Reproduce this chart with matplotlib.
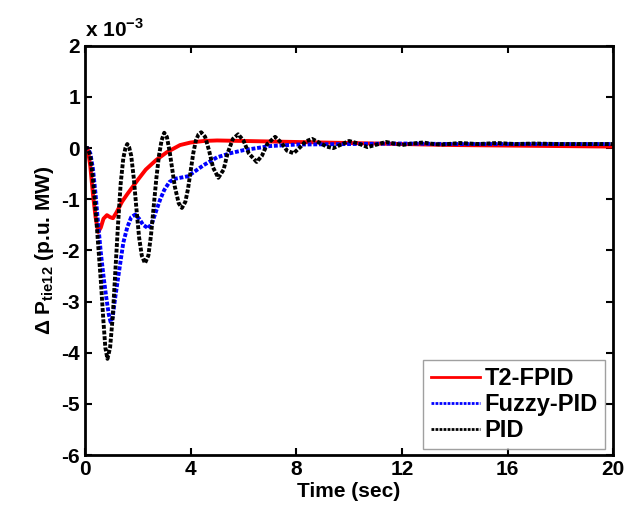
import matplotlib
matplotlib.use("Agg")
import matplotlib.pyplot as plt

plt.rcParams['font.family'] = ['Liberation Sans', 'DejaVu Sans']
plt.rcParams['mathtext.fontset'] = 'custom'
plt.rcParams['mathtext.rm'] = 'Liberation Sans'
plt.rcParams['mathtext.bf'] = 'Liberation Sans:bold'
plt.rcParams['axes.unicode_minus'] = False

# Data (values in units of 1e-3 p.u. MW)
t_t2 = [0, 0.1, 0.2, 0.3, 0.4, 0.5, 0.6, 0.7, 0.83, 0.95, 1.06, 1.2, 1.4, 1.6,
        1.8, 2.0, 2.3, 2.7, 3.1, 3.6, 4.0, 4.5, 5.0, 6.0, 7.0, 8.0, 10, 12, 14,
        16, 18, 20]
y_t2 = [0, 0, -0.35, -0.9, -1.35, -1.64, -1.55, -1.38, -1.31, -1.35, -1.37,
        -1.25, -1.05, -0.9, -0.76, -0.62, -0.42, -0.23, -0.08, 0.06, 0.11,
        0.14, 0.15, 0.14, 0.13, 0.12, 0.1, 0.08, 0.06, 0.05, 0.04, 0.03]

t_fuzzy = [0, 0.1, 0.2, 0.3, 0.4, 0.5, 0.6, 0.7, 0.8, 0.9, 0.97, 1.05, 1.15,
           1.25, 1.35, 1.45, 1.6, 1.75, 1.9, 2.05, 2.2, 2.4, 2.55, 2.7, 2.85,
           3.0, 3.2, 3.4, 3.7, 3.9, 4.2, 4.5, 5.0, 5.5, 6.0, 6.5, 7.0, 8.0, 10,
           12, 14, 16, 18, 20]
y_fuzzy = [0, 0, -0.1, -0.4, -0.9, -1.5, -2.05, -2.5, -2.9, -3.25, -3.4, -3.3,
           -2.9, -2.55, -2.2, -1.85, -1.55, -1.35, -1.3, -1.38, -1.5, -1.57,
           -1.45, -1.22, -1.0, -0.82, -0.66, -0.6, -0.57, -0.55, -0.44, -0.33,
           -0.18, -0.1, -0.04, 0.0, 0.04, 0.07, 0.08, 0.09, 0.08, 0.08, 0.08,
           0.08]

t_pid = [0, 0.1, 0.2, 0.3, 0.4, 0.5, 0.6, 0.7, 0.77, 0.85, 0.95, 1.05, 1.15,
         1.25, 1.35, 1.45, 1.53, 1.6, 1.67, 1.75, 1.85, 1.95, 2.05, 2.15,
         2.27, 2.4, 2.5, 2.6, 2.7, 2.8, 2.9, 3.0, 3.1, 3.2, 3.3, 3.4, 3.55,
         3.67, 3.8, 3.9, 4.0, 4.1, 4.2, 4.3, 4.4, 4.55, 4.7, 4.85, 5.05, 5.25,
         5.4, 5.6, 5.8, 6.0, 6.2, 6.5, 6.7, 6.9, 7.2, 7.45, 7.65, 7.9, 8.15,
         8.35, 8.6, 8.9, 9.15, 9.4, 9.7, 10.0, 10.35, 10.7, 11.05, 11.4, 11.7,
         12.0, 12.4, 12.8, 13.2, 13.5, 14.2, 14.9, 15.6, 16.3, 17, 18, 19, 20]
y_pid = [0, 0, -0.15, -0.6, -1.2, -1.9, -2.6, -3.4, -3.9, -4.12, -3.9, -3.3,
         -2.4, -1.5, -0.7, -0.2, 0.0, 0.08, 0.02, -0.15, -0.6, -1.2, -1.75,
         -2.1, -2.25, -2.1, -1.7, -1.15, -0.6, -0.15, 0.15, 0.3, 0.22, -0.05,
         -0.4, -0.75, -1.08, -1.17, -1.05, -0.8, -0.45, -0.1, 0.15, 0.27,
         0.31, 0.22, -0.05, -0.38, -0.58, -0.42, -0.1, 0.18, 0.27, 0.15, -0.1,
         -0.27, -0.15, 0.08, 0.22, 0.1, -0.05, -0.1, 0.02, 0.13, 0.18, 0.1,
         0.03, 0.0, 0.07, 0.14, 0.09, 0.02, 0.07, 0.12, 0.09, 0.06, 0.09, 0.11,
         0.08, 0.07, 0.1, 0.08, 0.1, 0.08, 0.09, 0.08, 0.08, 0.08]

labels = ['T2-FPID', 'Fuzzy-PID', 'PID']
xticks = [0, 4, 8, 12, 16, 20]
yticks = [-6, -5, -4, -3, -2, -1, 0, 1, 2]

fig = plt.figure(figsize=(6.25, 5.15), dpi=100)
ax = fig.add_axes([0.136, 0.1165, 0.845, 0.7945])

dots = (0, (1.0, 0.45))
ax.plot(t_t2, y_t2, color='red', lw=2.8, label=labels[0])
ax.plot(t_fuzzy, y_fuzzy, color='blue', lw=2.8, ls=dots, label=labels[1])
ax.plot(t_pid, y_pid, color='black', lw=2.8, ls=dots, label=labels[2])

ax.set_xlim(0, 20)
ax.set_ylim(-6, 2)
ax.set_xticks(xticks)
ax.set_yticks(yticks)
ax.tick_params(direction='in', top=True, right=True, length=5, width=1.5,
               labelsize=15)
for lbl in ax.get_xticklabels() + ax.get_yticklabels():
    lbl.set_fontweight('bold')
for s in ax.spines.values():
    s.set_linewidth(2)

ax.set_xlabel('Time (sec)', fontsize=15, fontweight='bold', labelpad=2)
ax.set_ylabel(r'$\mathbf{\Delta}$ P$_{\mathbf{tie12}}$ (p.u. MW)',
              fontsize=15, fontweight='bold', labelpad=4)
ax.text(0.0, 1.012, r'x 10$^{\mathbf{-3}}$', transform=ax.transAxes,
        fontsize=15, fontweight='bold', ha='left', va='bottom')

leg = ax.legend(loc='lower right', prop={'size': 17, 'weight': 'bold'},
                handlelength=2.1, fancybox=False, edgecolor='#888888',
                bbox_to_anchor=(0.985, 0.015), borderaxespad=0.0,
                labelspacing=0.12, handletextpad=0.2, borderpad=0.3)
leg.get_frame().set_linewidth(1.0)
for ln in leg.get_lines():
    ln.set_linewidth(2.0)

fig.savefig('out.png', dpi=100)
